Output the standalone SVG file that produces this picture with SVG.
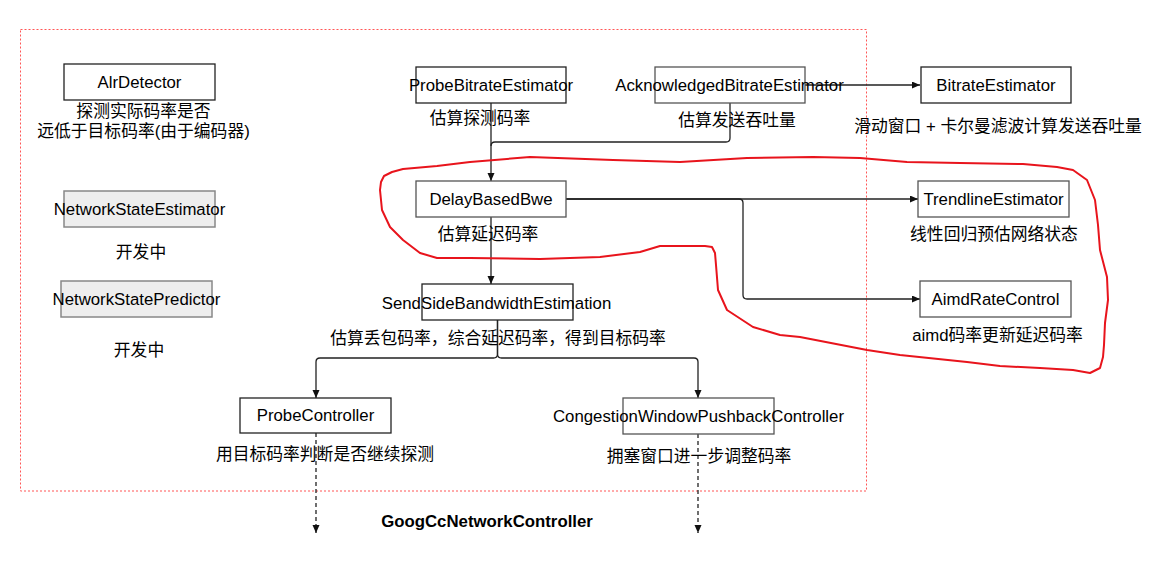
<svg xmlns="http://www.w3.org/2000/svg" width="1154" height="567" viewBox="0 0 1154 567">
<style>
text{font-family:"Liberation Sans","Noto Sans CJK SC",sans-serif;font-size:16.8px;fill:#000;text-anchor:middle}
.b{fill:#fff;stroke:#222;stroke-width:1.3}
.g{fill:#fff;stroke:#555;stroke-width:1.3}
.d{fill:#eeeeee;stroke:#888;stroke-width:1.5}
.e{fill:none;stroke:#222;stroke-width:1.3}
.dash{stroke-dasharray:4 3}
.t{font-weight:bold}
</style>
<defs>
<marker id="arr" markerWidth="9" markerHeight="8" refX="8" refY="3.5" orient="auto" markerUnits="userSpaceOnUse">
<path d="M0,0 L8,3.5 L0,7 z" fill="#111"/>
</marker>
</defs>
<rect x="20.5" y="29.5" width="846" height="461.5" fill="none" stroke="#ff5555" stroke-width="1" stroke-dasharray="2 2"/>
<g id="connectors">
<path class="e" d="M491,103 V181" marker-end="url(#arr)"/>
<path class="e" d="M730,103 V138 Q730,142 726,142 H495 Q491,142 491,146"/>
<path class="e" d="M805,85 H920" marker-end="url(#arr)"/>
<path class="e" d="M566,199 H918" marker-end="url(#arr)"/>
<path class="e" d="M566,199 H739 Q743,199 743,203 V295 Q743,299 747,299 H920" marker-end="url(#arr)"/>
<path class="e" d="M491,217 V284" marker-end="url(#arr)"/>
<path class="e" d="M497.5,320 V354 Q497.5,358 493.5,358 H320 Q316,358 316,362 V398" marker-end="url(#arr)"/>
<path class="e" d="M497.5,320 V354 Q497.5,358 501.5,358 H694 Q698,358 698,362 V398" marker-end="url(#arr)"/>
<path class="e dash" d="M316,433 V533" marker-end="url(#arr)"/>
<path class="e dash" d="M698,434 V533" marker-end="url(#arr)"/>
</g>
<g id="AlrDetector">
<rect class="b" x="64" y="64" width="151" height="36"/>
<text x="139.5" y="88">AlrDetector</text>
<text x="143.5" y="117">探测实际码率是否</text>
<text x="143.5" y="136.5">远低于目标码率(由于编码器)</text>
</g>
<g id="NetworkStateEstimator">
<rect class="d" x="64" y="191" width="151" height="36"/>
<text x="139.5" y="215">NetworkStateEstimator</text>
<text x="141" y="258">开发中</text>
</g>
<g id="NetworkStatePredictor">
<rect class="d" x="61" y="281" width="151" height="36"/>
<text x="136.5" y="305">NetworkStatePredictor</text>
<text x="139" y="356">开发中</text>
</g>
<g id="ProbeBitrateEstimator">
<rect class="b" x="416" y="67" width="150" height="36"/>
<text x="491" y="91">ProbeBitrateEstimator</text>
<text x="480" y="124">估算探测码率</text>
</g>
<g id="AcknowledgedBitrateEstimator">
<rect class="g" x="655" y="67" width="150" height="36"/>
<text x="729.5" y="91">AcknowledgedBitrateEstimator</text>
<text x="737" y="126">估算发送吞吐量</text>
</g>
<g id="BitrateEstimator">
<rect class="b" x="921" y="67" width="150" height="36"/>
<text x="996" y="91">BitrateEstimator</text>
<text x="998" y="132">滑动窗口 + 卡尔曼滤波计算发送吞吐量</text>
</g>
<g id="DelayBasedBwe">
<rect class="g" x="416" y="181" width="150" height="36"/>
<text x="491" y="205">DelayBasedBwe</text>
<text x="488" y="240">估算延迟码率</text>
</g>
<g id="TrendlineEstimator">
<rect class="g" x="918" y="181" width="151" height="36"/>
<text x="993.5" y="205">TrendlineEstimator</text>
<text x="994" y="240">线性回归预估网络状态</text>
</g>
<g id="AimdRateControl">
<rect class="g" x="920" y="281" width="151" height="36"/>
<text x="995.5" y="305">AimdRateControl</text>
<text x="997.5" y="341">aimd码率更新延迟码率</text>
</g>
<g id="SendSideBandwidthEstimation">
<rect class="b" x="422" y="284" width="151" height="36"/>
<text x="496.5" y="309">SendSideBandwidthEstimation</text>
<text x="498" y="344">估算丢包码率，综合延迟码率，得到目标码率</text>
</g>
<g id="ProbeController">
<rect class="b" x="240" y="398" width="151" height="35"/>
<text x="315.5" y="421">ProbeController</text>
<text x="325" y="460">用目标码率判断是否继续探测</text>
</g>
<g id="CongestionWindowPushbackController">
<rect class="g" x="623" y="398" width="151" height="36"/>
<text x="698.5" y="422">CongestionWindowPushbackController</text>
<text x="699" y="462">拥塞窗口进一步调整码率</text>
</g>
<g id="title">
<text class="t" x="487" y="527">GoogCcNetworkController</text>
</g>
<g id="annotation">
<path fill="none" stroke="#e8141c" stroke-width="2" stroke-linejoin="round" d="M380,190 L381,182 L384,176 L392,172 L403,169 L437,166 L470,162 L530,157 L613,160 L680,162 L747,158 L813,157 L860,158 L907,162 L960,163 L1023,164 L1057,167 L1073,170 L1087,180 L1095,200 L1098,225 L1100,250 L1107,277 L1108,300 L1105,323 L1104,345 L1103,357 L1100,368 L1090,373 L1073,370 L1040,368 L1000,366 L967,362 L900,355 L867,350 L800,337 L780,335 L753,327 L727,310 L718,290 L716,265 L715,253 L712,247 L705,246 L660,246 L640,252 L600,257 L540,259 L470,258 L437,258 L420,253 L403,240 L390,227 L382,210 Z"/>
</g>
</svg>
